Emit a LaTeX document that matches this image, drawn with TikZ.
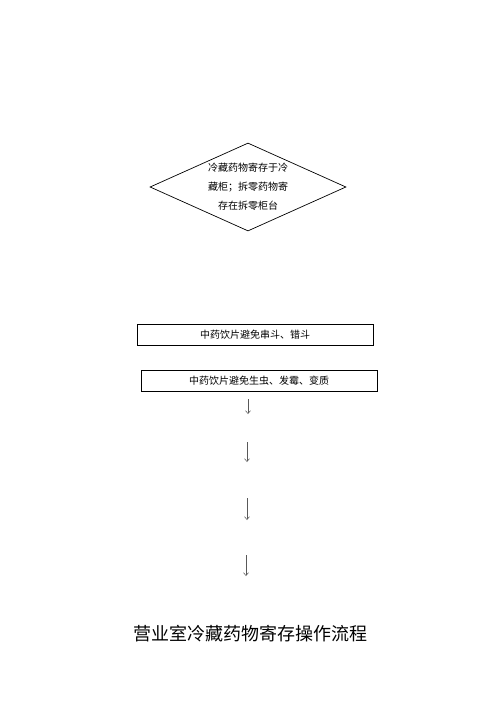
\documentclass[tikz,border=0pt]{standalone}
\usepackage{fontspec}
\setmainfont{Noto Sans CJK SC}
\usepackage{tikz}
\usetikzlibrary{arrows.meta,shapes.geometric}

\begin{document}
\begin{tikzpicture}[x=1pt,y=-1pt,
  decision/.style={draw,diamond,aspect=2.23,line width=0.7pt,minimum width=196pt,minimum height=88pt,inner sep=0pt,align=center,font=\fontsize{10}{19}\selectfont},
  stepbox/.style={draw,rectangle,line width=0.9pt,minimum width=236pt,minimum height=21pt,inner sep=0pt,font=\fontsize{10}{12}\selectfont},
  flow/.style={-{Straight Barb[length=3pt,width=5pt]},gray!70!black,line width=0.5pt}]
\useasboundingbox (0,0) rectangle (500,707);

% Decision diamond
\node[decision] (store) at (248,187) {冷藏药物寄存于冷\\藏柜；拆零药物寄\\存在拆零柜台};

% Two process boxes
\node[stepbox] (mix) at (255,334.5) {中药饮片避免串斗、错斗};
\node[stepbox] (pest) at (259,381) {中药饮片避免生虫、发霉、变质};

% Loose down arrows
\foreach \x/\ya/\yb [count=\i] in {248/399/414, 247/442/462, 247/498/520, 246/555/576} {
  \coordinate (s\i) at (\x,\ya);
  \coordinate (e\i) at (\x,\yb);
  \draw[flow] (s\i) -- (e\i);
}

\node[font=\fontsize{18}{20}\selectfont] (title) at (250,634) {营业室冷藏药物寄存操作流程};
\end{tikzpicture}
\end{document}
